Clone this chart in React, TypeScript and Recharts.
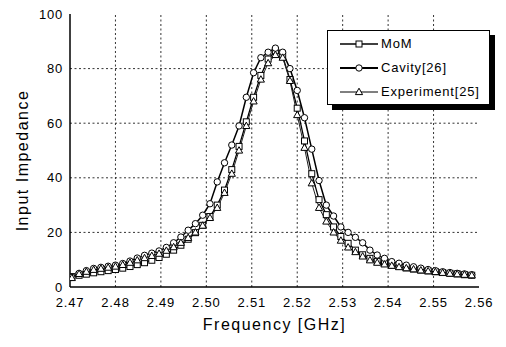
import React from 'react';
import { LineChart, Line, XAxis, YAxis, Legend, Label, ReferenceLine } from 'recharts';

// Frequency samples (GHz)
const FREQ_GHZ = [
  2.4704, 2.472, 2.4736, 2.4752, 2.4768, 2.4784, 2.48, 2.4816, 2.4832, 2.4848,
  2.4864, 2.488, 2.4896, 2.4912, 2.4928, 2.4944, 2.496, 2.4976, 2.4992, 2.5008,
  2.5024, 2.504, 2.5056, 2.5072, 2.5088, 2.5104, 2.512, 2.5136, 2.5152, 2.5168,
  2.5184, 2.52, 2.5216, 2.5232, 2.5248, 2.5264, 2.528, 2.5296, 2.5312, 2.5328,
  2.5344, 2.536, 2.5376, 2.5392, 2.5408, 2.5424, 2.544, 2.5456, 2.5472, 2.5488,
  2.5504, 2.552, 2.5536, 2.5552, 2.5568, 2.5584,
];

// Input impedance, method of moments
const MOM = [
  3.8, 4.3, 4.7, 5.2, 5.6, 6.0, 6.4, 6.9, 7.5, 8.2,
  8.9, 9.8, 10.8, 12.0, 13.5, 15.3, 17.5, 19.9, 22.6, 25.8,
  30.0, 35.5, 43.0, 51.5, 60.5, 69.5, 77.5, 83.5, 86.5, 84.5,
  76.0, 65.5, 53.5, 41.5, 32.0, 26.5, 22.0, 18.5, 16.0, 13.5,
  11.8, 10.5, 9.4, 8.6, 8.0, 7.5, 7.0, 6.6, 6.2, 5.9,
  5.6, 5.3, 5.0, 4.8, 4.5, 4.3,
];

// Input impedance, cavity model [26]
const CAVITY = [
  3.5, 5.0, 6.0, 6.8, 7.2, 7.6, 8.0, 8.6, 9.5, 10.6,
  11.6, 12.4, 13.2, 14.5, 16.2, 18.3, 20.8, 23.2, 26.3, 30.5,
  38.5, 45.5, 52.0, 59.0, 69.5, 78.5, 84.0, 86.0, 87.5, 86.0,
  80.0, 72.0, 62.0, 50.5, 39.0, 30.0, 26.0, 22.0, 20.0, 18.2,
  16.2, 13.5, 11.7, 10.5, 9.3, 8.7, 8.0, 7.4, 6.9, 6.4,
  6.0, 5.6, 5.3, 5.0, 4.8, 4.5,
];

// Input impedance, measured [25]
const EXPERIMENT = [
  3.3, 4.8, 5.6, 6.3, 6.7, 7.1, 7.5, 8.1, 8.9, 9.8,
  10.6, 11.4, 12.2, 13.3, 14.6, 16.2, 18.0, 20.0, 22.5, 25.3,
  29.0, 34.5, 41.5, 50.0, 59.0, 68.0, 76.0, 82.0, 85.0, 84.0,
  75.5, 63.0, 51.0, 38.0, 29.0, 24.0, 20.0, 17.0, 14.5, 12.8,
  11.2, 9.8, 8.9, 8.3, 7.8, 7.3, 6.9, 6.5, 6.1, 5.8,
  5.5, 5.2, 4.9, 4.7, 4.5, 4.3,
];

const X_TICKS = [2.47, 2.48, 2.49, 2.5, 2.51, 2.52, 2.53, 2.54, 2.55, 2.56];
const Y_TICKS = [0, 20, 40, 60, 80, 100];
const Y_MINOR_TICKS = [0, 10, 20, 30, 40, 50, 60, 70, 80, 90, 100];

const X_TITLE = 'Frequency [GHz]';
const Y_TITLE = 'Input Impedance';

const SERIES_ORDER = ['mom', 'cavity', 'experiment'];

const data = FREQ_GHZ.map((f, i) => ({
  f,
  mom: MOM[i],
  cavity: CAVITY[i],
  experiment: EXPERIMENT[i],
}));

const FONT = 'Arial, "Liberation Sans", Helvetica, sans-serif';

type Shape = 'square' | 'circle' | 'triangle';

const SHAPES: Record<string, Shape> = {
  mom: 'square',
  cavity: 'circle',
  experiment: 'triangle',
};

const LEGEND_STROKE: Record<string, number> = {
  mom: 1.4,
  cavity: 2,
  experiment: 1,
};

function Marker({ shape, cx, cy }: { shape: Shape; cx: number; cy: number }) {
  if (shape === 'square') {
    return <rect x={cx - 3} y={cy - 3} width={6} height={6} fill="#fff" stroke="#000" strokeWidth={1} />;
  }
  if (shape === 'circle') {
    return <circle cx={cx} cy={cy} r={3.2} fill="#fff" stroke="#000" strokeWidth={1} />;
  }
  return (
    <path
      d={`M${cx},${cy - 3.8}L${cx + 3.6},${cy + 2.6}L${cx - 3.6},${cy + 2.6}Z`}
      fill="#fff"
      stroke="#000"
      strokeWidth={1}
    />
  );
}

const dotFor = (shape: Shape) => (props: any) => {
  const { cx, cy, index } = props;
  if (cx == null || cy == null) return <g key={`${shape}-${index}`} />;
  return (
    <g key={`${shape}-${index}`}>
      <Marker shape={shape} cx={cx} cy={cy} />
    </g>
  );
};

function LegendBox(props: any) {
  const payload = [...(props.payload || [])].sort(
    (a: any, b: any) => SERIES_ORDER.indexOf(String(a.dataKey)) - SERIES_ORDER.indexOf(String(b.dataKey)),
  );
  return (
    <div
      style={{
        width: 163,
        height: 75,
        boxSizing: 'border-box',
        border: '1px solid #000',
        background: '#fff',
        boxShadow: '5px 5px 0 #000',
        position: 'relative',
        fontFamily: FONT,
        fontSize: 13,
        letterSpacing: 0.8,
        color: '#000',
      }}
    >
      {payload.map((p: any, i: number) => {
        const key = String(p.dataKey);
        return (
          <div
            key={key}
            style={{ position: 'absolute', left: 11, top: 5 + i * 24, height: 16, display: 'flex', alignItems: 'center' }}
          >
            <svg width={40} height={16} style={{ display: 'block' }}>
              <line x1={1} y1={8} x2={39} y2={8} stroke="#000" strokeWidth={LEGEND_STROKE[key] ?? 1.2} />
              <Marker shape={SHAPES[key] ?? 'square'} cx={20} cy={8} />
            </svg>
            <span style={{ marginLeft: 2, lineHeight: '16px', whiteSpace: 'nowrap' }}>{p.value}</span>
          </div>
        );
      })}
    </div>
  );
}

const renderYTitle = (props: any) => {
  const vb = props.viewBox || { x: 0, y: 0, width: 0, height: 0 };
  const cx = vb.x + 22;
  const cy = vb.y + vb.height / 2 + 10;
  return (
    <text
      x={cx}
      y={cy}
      transform={`rotate(-90 ${cx} ${cy})`}
      textAnchor="middle"
      dominantBaseline="central"
      fontFamily={FONT}
      fontSize={16}
      letterSpacing={1.5}
      fill="#000"
    >
      {Y_TITLE}
    </text>
  );
};

const renderXTitle = (props: any) => {
  const vb = props.viewBox || { x: 0, y: 0, width: 0, height: 0 };
  const cx = vb.x + vb.width / 2;
  const cy = vb.y + 37.5;
  return (
    <text
      x={cx}
      y={cy}
      textAnchor="middle"
      dominantBaseline="central"
      fontFamily={FONT}
      fontSize={16}
      letterSpacing={1.5}
      fill="#000"
    >
      {X_TITLE}
    </text>
  );
};

const tickStyle = { fill: '#000', fontSize: 13, fontFamily: FONT, letterSpacing: 0.8 };
const frameLine = { stroke: '#000', strokeWidth: 1.5 };
const gridStroke = { stroke: '#333', strokeDasharray: '2 2.5', strokeWidth: 1 };

export default function App() {
  return (
    <div style={{ position: 'absolute', left: 0, top: 0, width: 506, height: 347, background: '#fff' }}>
      <LineChart width={506} height={347} data={data} margin={{ top: 14, right: 27, bottom: 16, left: 0 }}>
        {X_TICKS.slice(1, -1).map((t) => (
          <ReferenceLine key={`gx-${t}`} x={t} {...gridStroke} ifOverflow="hidden" />
        ))}
        {Y_TICKS.slice(1, -1).map((t) => (
          <ReferenceLine key={`gy-${t}`} y={t} {...gridStroke} ifOverflow="hidden" />
        ))}
        <XAxis
          dataKey="f"
          type="number"
          domain={[2.47, 2.56]}
          allowDataOverflow
          ticks={X_TICKS}
          interval={0}
          tickFormatter={(v: number) => v.toFixed(2)}
          height={44}
          tickLine={false}
          tickSize={0}
          tickMargin={11}
          axisLine={frameLine}
          tick={tickStyle}
        >
          <Label content={renderXTitle} />
        </XAxis>
        <XAxis
          xAxisId="inner-bottom"
          dataKey="f"
          type="number"
          orientation="bottom"
          mirror
          domain={[2.47, 2.56]}
          allowDataOverflow
          ticks={X_TICKS}
          interval={0}
          tick={false}
          tickSize={5}
          tickLine={{ stroke: '#000' }}
          axisLine={false}
          height={0}
        />
        <XAxis
          xAxisId="top"
          dataKey="f"
          type="number"
          orientation="top"
          mirror
          domain={[2.47, 2.56]}
          allowDataOverflow
          ticks={X_TICKS}
          interval={0}
          tick={false}
          tickSize={5}
          tickLine={{ stroke: '#000' }}
          axisLine={frameLine}
          height={0}
        />
        <YAxis
          type="number"
          domain={[0, 100]}
          allowDataOverflow
          ticks={Y_TICKS}
          interval={0}
          width={70}
          tickLine={false}
          tickSize={0}
          tickMargin={7}
          axisLine={frameLine}
          tick={tickStyle}
        >
          <Label content={renderYTitle} />
        </YAxis>
        <YAxis
          yAxisId="inner-left"
          type="number"
          orientation="left"
          mirror
          domain={[0, 100]}
          allowDataOverflow
          ticks={Y_MINOR_TICKS}
          interval={0}
          tick={false}
          tickSize={5}
          tickLine={{ stroke: '#000' }}
          axisLine={false}
          width={0}
        />
        <YAxis
          yAxisId="right"
          type="number"
          orientation="right"
          mirror
          domain={[0, 100]}
          allowDataOverflow
          ticks={Y_MINOR_TICKS}
          interval={0}
          tick={false}
          tickSize={5}
          tickLine={{ stroke: '#000' }}
          axisLine={frameLine}
          width={0}
        />
        <Legend
          layout="vertical"
          align="center"
          verticalAlign="middle"
          wrapperStyle={{ position: 'absolute', left: 327, top: 30, width: 'auto' }}
          content={LegendBox}
        />
        <Line
          type="linear"
          dataKey="mom"
          name="MoM"
          stroke="#000"
          strokeWidth={1.3}
          dot={dotFor('square')}
          activeDot={false}
          isAnimationActive={false}
        />
        <Line
          type="linear"
          dataKey="cavity"
          name="Cavity[26]"
          stroke="#000"
          strokeWidth={1.5}
          dot={dotFor('circle')}
          activeDot={false}
          isAnimationActive={false}
        />
        <Line
          type="linear"
          dataKey="experiment"
          name="Experiment[25]"
          stroke="#222"
          strokeWidth={1}
          dot={dotFor('triangle')}
          activeDot={false}
          isAnimationActive={false}
        />
      </LineChart>
    </div>
  );
}
